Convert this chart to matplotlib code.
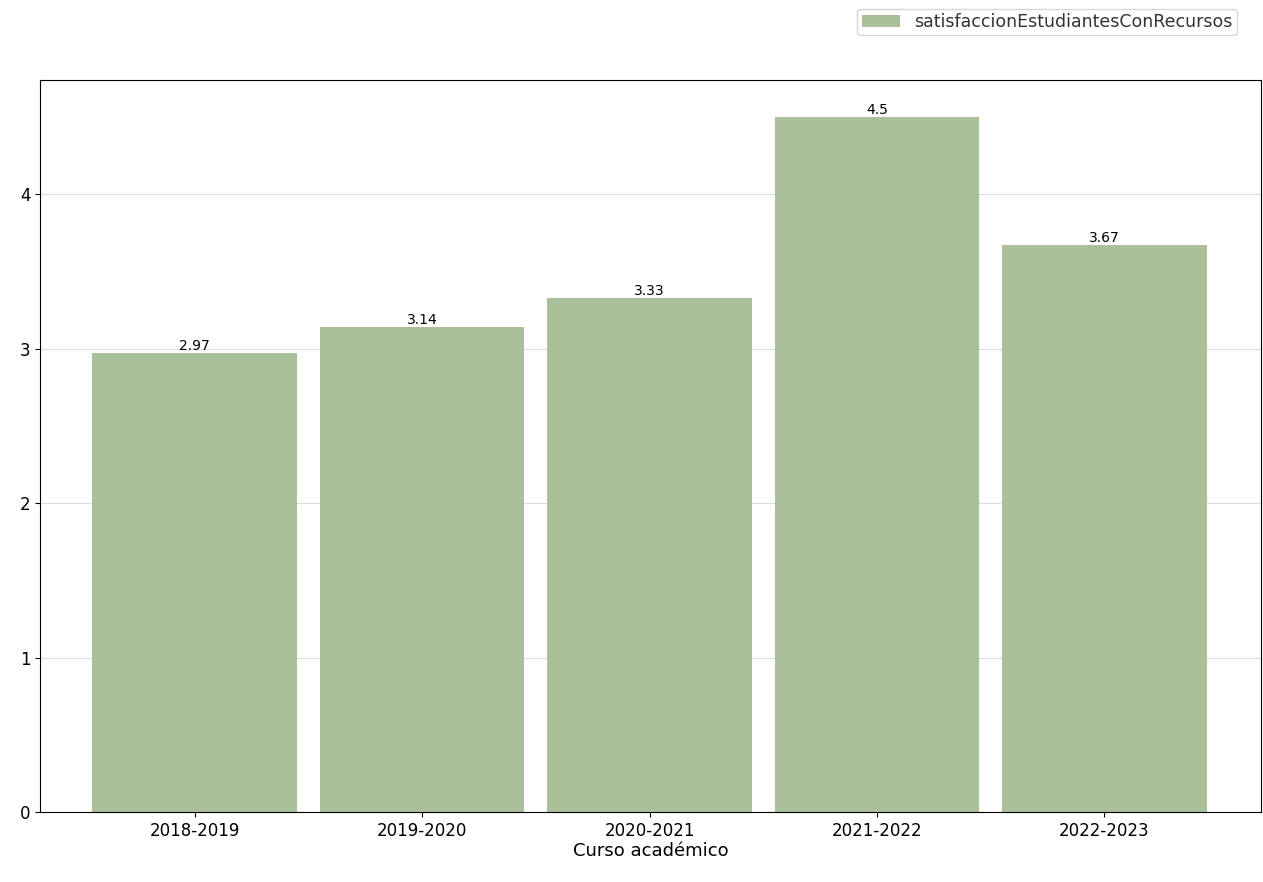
import matplotlib
matplotlib.use("Agg")
import matplotlib.pyplot as plt

categories = ["2018-2019", "2019-2020", "2020-2021", "2021-2022", "2022-2023"]
values = [2.97, 3.14, 3.33, 4.5, 3.67]
labels = ["2.97", "3.14", "3.33", "4.5", "3.67"]

fig = plt.figure(figsize=(12.63, 8.82), dpi=100)
ax = fig.add_axes([0.0317, 0.0794, 0.967, 0.8296])
x = range(len(categories))
bars = ax.bar(x, values, width=0.9, color="#aac09b", label="satisfaccionEstudiantesConRecursos", zorder=2)
for b, l in zip(bars, labels):
    ax.text(b.get_x() + b.get_width() / 2, b.get_height(), l, ha="center", va="bottom", fontsize=10)
ax.set_xticks(list(x))
ax.set_xticklabels(categories, fontsize=12)
ax.tick_params(axis="y", labelsize=12)
ax.set_xlim(-0.68, 4.69)
ax.set_ylim(0, 4.74)
ax.set_yticks([0, 1, 2, 3, 4])
ax.yaxis.grid(True, color="#dddddd", zorder=0)
ax.set_axisbelow(True)
ax.set_xlabel("Curso académico", fontsize=13, labelpad=2)
leg = fig.legend(loc="upper right", bbox_to_anchor=(0.986, 1.0), fontsize=12.5, fancybox=True,
                 edgecolor="#cccccc", handlelength=2.2, borderpad=0.25)
for t in leg.get_texts():
    t.set_color("#333333")
fig.savefig("out.png", dpi=100)
